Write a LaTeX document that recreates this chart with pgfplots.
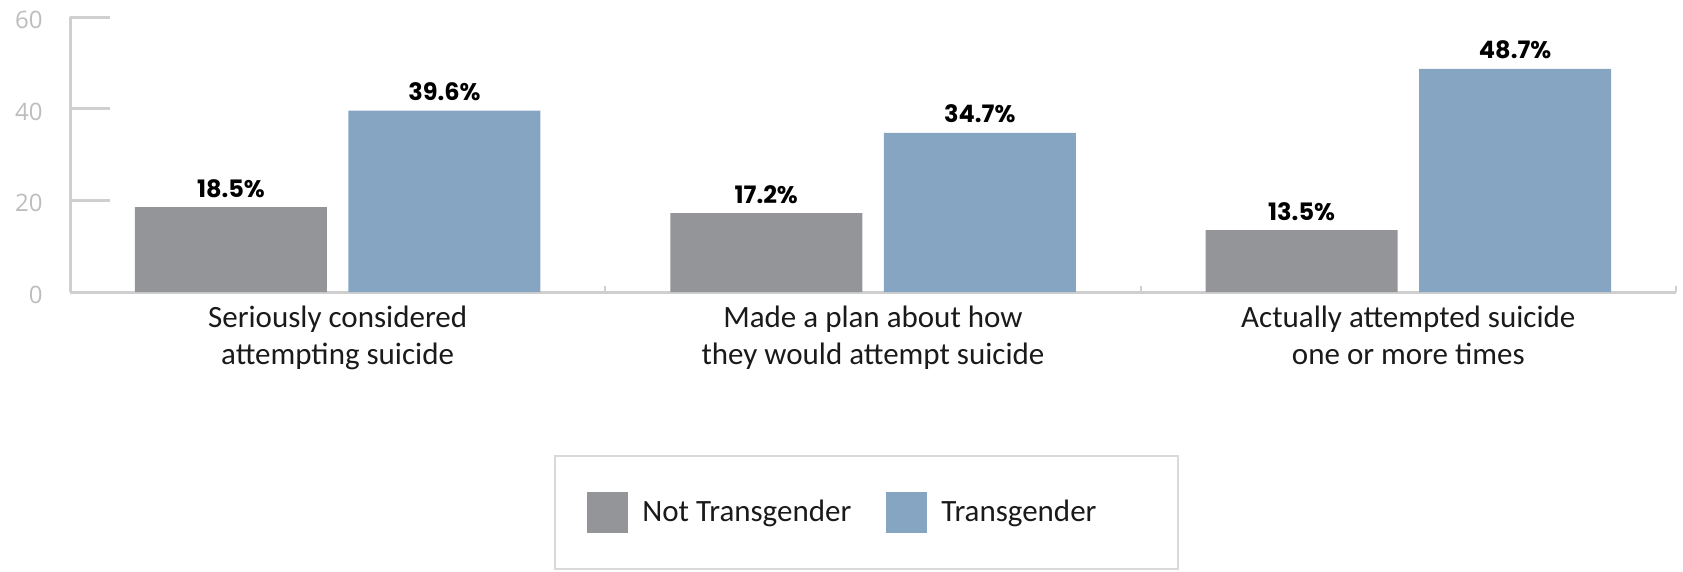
\documentclass[border=0pt]{standalone}
\usepackage{pgfplots}
\pgfplotsset{compat=1.18}
\usepackage{fontspec}
\setmainfont{Carlito}
\newfontfamily\opensans{Open Sans}
\newfontfamily\poppins{Poppins}
\definecolor{bargray}{HTML}{939598}
\definecolor{barblue}{HTML}{86A5C3}
\definecolor{axgray}{HTML}{CFCFCF}
\definecolor{ticktext}{HTML}{BDBDBD}
\definecolor{legbox}{HTML}{D9D9D9}
\definecolor{txt}{HTML}{1A1A1A}
\begin{document}
\begin{tikzpicture}
\useasboundingbox (0,0) rectangle (841.5bp,286bp);
\begin{axis}[
  at={(35bp,140bp)}, anchor=south west,
  scale only axis, width=803bp, height=137.5bp,
  xmin=-0.5, xmax=2.5, ymin=0, ymax=60,
  axis lines*=left,
  axis line style={axgray, line width=1.5bp},
  ybar=10.75bp, bar width=96bp,
  xtick={0,1,2},
  xticklabels={{Seriously considered\\attempting suicide},{Made a plan about how\\they would attempt suicide},{Actually attempted suicide\\one or more times}},
  x tick style={draw=none},
  xticklabel style={align=center, font=\fontsize{15.5bp}{18.5bp}\selectfont, inner sep=0pt, anchor=north, yshift=-7bp, text=txt},
  ytick={0,20,40,60},
  y tick style={axgray, line width=1.5bp},
  major tick length=20bp,
  tick align=inside,
  yticklabel style={font=\opensans\fontsize{12bp}{14bp}\selectfont, text=ticktext, inner sep=0pt, anchor=east, xshift=-13.5bp, yshift=-1.5bp},
  /pgf/number format/assume math mode=true,
  nodes near coords={\pgfmathprintnumber[fixed,fixed zerofill,precision=1]{\pgfplotspointmeta}\%},
  nodes near coords style={font=\poppins\bfseries\fontsize{12bp}{14bp}\selectfont, anchor=base, inner sep=0pt, yshift=5bp, text=black},
  legend columns=2,
  legend style={draw=none, fill=none, inner sep=0pt, at={(0.3219,-0.8018)}, anchor=west,
    font=\fontsize{15.5bp}{18.5bp}\selectfont, text=txt,
    nodes={inner sep=0pt},
    /tikz/every odd column/.append style={column sep=7bp},
    /tikz/every even column/.append style={column sep=17.5bp}},
  legend image code/.code={\fill[#1] (0bp,-10.25bp) rectangle (20.5bp,10.25bp);},
  clip=false,
]
\addplot[fill=bargray, draw=none] coordinates {(0,18.5) (1,17.2) (2,13.5)};
\addlegendentry{Not Transgender}
\addplot[fill=barblue, draw=none] coordinates {(0,39.6) (1,34.7) (2,48.7)};
\addlegendentry{Transgender}
\draw[axgray, line width=1bp] (axis cs:0.5,0) -- ++(0pt,3bp);
\draw[axgray, line width=1bp] (axis cs:1.5,0) -- ++(0pt,3bp);
\draw[axgray, line width=1bp] (axis cs:2.5,0) -- ++(0pt,3bp);
\end{axis}
\draw[legbox, line width=1bp] (277.5bp,1.5bp) rectangle (589bp,58bp);
\end{tikzpicture}
\end{document}
